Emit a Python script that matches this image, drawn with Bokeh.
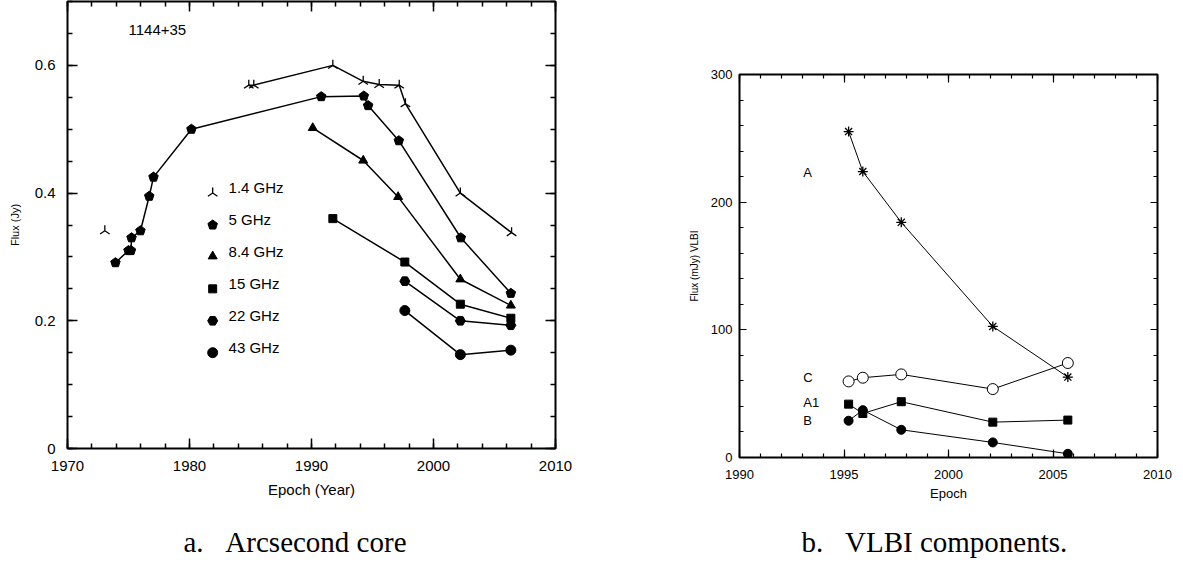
import math
from bokeh.plotting import figure
from bokeh.models import FixedTicker, LinearAxis, CustomJSTickFormatter, Title, Range1d, Spacer
from bokeh.layouts import row, column
from bokeh.core.properties import value
from bokeh.embed import file_html
from bokeh.resources import INLINE

SANS = "Liberation Sans"
SERIF = "Liberation Serif"

# ---------------- Panel a: arcsecond core ----------------
f14_x = [1973.06, 1984.86, 1985.27, 1991.75, 1994.24, 1995.55, 1997.19, 1997.70, 2002.20, 2006.40]
f14_y = [0.341, 0.569, 0.569, 0.600, 0.575, 0.570, 0.569, 0.540, 0.400, 0.338]
f5_x = [1973.93, 1975.00, 1975.20, 1975.25, 1975.98, 1976.70, 1977.05, 1980.16, 1990.80, 1994.29, 1994.64, 1997.16, 2002.24, 2006.34]
f5_y = [0.291, 0.310, 0.310, 0.330, 0.341, 0.395, 0.425, 0.500, 0.551, 0.552, 0.537, 0.482, 0.330, 0.243]
f84_x = [1990.10, 1994.24, 1997.10, 2002.20, 2006.34]
f84_y = [0.502, 0.451, 0.394, 0.265, 0.224]
f15_x = [1991.75, 1997.65, 2002.20, 2006.34]
f15_y = [0.360, 0.292, 0.226, 0.204]
f22_x = [1997.65, 2002.20, 2006.34]
f22_y = [0.262, 0.200, 0.193]
f43_x = [1997.65, 2002.20, 2006.34]
f43_y = [0.216, 0.147, 0.154]

legend_labels = ["1.4 GHz", "5 GHz", "8.4 GHz", "15 GHz", "22 GHz", "43 GHz"]
legend_y = [0.400, 0.350, 0.301, 0.250, 0.200, 0.150]
legend_marker_x = 1981.9
legend_text_x = 1983.2
source_name = "1144+35"

a_xticks = [1970, 1980, 1990, 2000, 2010]
a_xminor = list(range(1970, 2011, 2))
a_yticks = [0, 0.2, 0.4, 0.6]
a_ytick_labels = ["0", "0.2", "0.4", "0.6"]
a_yminor = [0, 0.05, 0.1, 0.15, 0.2, 0.25, 0.3, 0.35, 0.4, 0.45, 0.5, 0.55, 0.6, 0.65, 0.7]

# ---------------- Panel b: VLBI components ----------------
epoch_b = [1995.22, 1995.90, 1997.74, 2002.12, 2005.71]
comp_A = [255.3, 224.0, 184.2, 102.7, 63.0]
comp_C = [59.6, 62.5, 65.1, 53.6, 74.0]
comp_A1 = [41.8, 34.5, 43.7, 27.7, 29.3]
comp_B = [28.8, 37.1, 21.7, 11.8, 2.9]
comp_labels = ["A", "C", "A1", "B"]
comp_label_y = [223.0, 63.0, 43.0, 29.0]
comp_label_x = 1993.05

b_xticks = [1990, 1995, 2000, 2005, 2010]
b_xminor = list(range(1990, 2011, 1))
b_yticks = [0, 100, 200, 300]
b_yminor = list(range(0, 301, 20))


def blank_formatter():
    return CustomJSTickFormatter(code="return ''")


def style_axis(ax, major_in, minor_in, lw, fsize, standoff):
    ax.axis_line_color = None
    ax.major_tick_in = major_in
    ax.major_tick_out = 0
    ax.minor_tick_in = minor_in
    ax.minor_tick_out = 0
    ax.major_tick_line_width = lw
    ax.minor_tick_line_width = lw
    ax.major_tick_line_color = "black"
    ax.minor_tick_line_color = "black"
    ax.major_label_text_font = SANS
    ax.major_label_text_font_size = fsize
    ax.major_label_text_color = "black"
    ax.major_label_standoff = standoff
    ax.axis_label_text_font = SANS
    ax.axis_label_text_font_style = "normal"
    ax.axis_label_text_color = "black"


def pentagons(p, xs, ys, r):
    try:
        p.ngon(x=xs, y=ys, radius=r, radius_units="screen", n=5, angle=0,
               fill_color="black", line_color="black", line_width=1)
    except Exception:
        p.scatter(xs, ys, marker="hex", size=2 * r, fill_color="black", line_color="black")


# ---------- figure a ----------
p1 = figure(frame_width=488, frame_height=447,
            x_range=Range1d(1970, 2010), y_range=Range1d(0, 0.7),
            min_border_left=67, min_border_right=53, min_border_top=1, min_border_bottom=114,
            output_backend="svg", toolbar_location=None,
            x_axis_label="Epoch (Year)", y_axis_label="Flux (Jy)")
p1.xgrid.visible = False
p1.ygrid.visible = False
p1.outline_line_color = "black"
p1.outline_line_width = 2
p1.background_fill_color = "white"
p1.border_fill_color = "white"

p1.xaxis.ticker = FixedTicker(ticks=a_xticks, minor_ticks=a_xminor)
p1.yaxis.ticker = FixedTicker(ticks=a_yticks, minor_ticks=a_yminor)
p1.yaxis.major_label_overrides = {t: s for t, s in zip(a_yticks, a_ytick_labels)}
style_axis(p1.xaxis[0], 10, 5, 1.5, "15px", 12)
style_axis(p1.yaxis[0], 10, 5, 1.5, "15px", 12)
p1.xaxis.axis_label_text_font_size = "15px"
p1.xaxis.axis_label_standoff = 7
p1.yaxis.axis_label_text_font_size = "11px"
p1.yaxis.axis_label_standoff = 11

ax_top = LinearAxis(ticker=FixedTicker(ticks=a_xticks, minor_ticks=a_xminor), formatter=blank_formatter())
style_axis(ax_top, 10, 5, 1.5, "1px", 0)
p1.add_layout(ax_top, "above")
ax_right = LinearAxis(ticker=FixedTicker(ticks=a_yticks, minor_ticks=a_yminor), formatter=blank_formatter())
style_axis(ax_right, 10, 5, 1.5, "1px", 0)
p1.add_layout(ax_right, "right")

LW1 = 1.5
p1.line(f14_x[1:], f14_y[1:], line_color="black", line_width=LW1)
p1.line(f5_x, f5_y, line_color="black", line_width=LW1)
p1.line(f84_x, f84_y, line_color="black", line_width=LW1)
p1.line(f15_x, f15_y, line_color="black", line_width=LW1)
p1.line(f22_x, f22_y, line_color="black", line_width=LW1)
p1.line(f43_x, f43_y, line_color="black", line_width=LW1)

p1.scatter(f14_x, f14_y, marker="y", size=11, angle=math.pi, line_color="black", line_width=1.3)
pentagons(p1, f5_x, f5_y, 5)
p1.scatter(f84_x, f84_y, marker="triangle", size=9, fill_color="black", line_color="black")
p1.scatter(f15_x, f15_y, marker="square", size=8, fill_color="black", line_color="black")
p1.scatter(f22_x, f22_y, marker="hex", size=10, fill_color="black", line_color="black")
p1.scatter(f43_x, f43_y, marker="circle", size=10, fill_color="black", line_color="black")

# legend (drawn inside the frame as in the original)
p1.scatter([legend_marker_x], [legend_y[0]], marker="y", size=11, angle=math.pi, line_color="black", line_width=1.3)
pentagons(p1, [legend_marker_x], [legend_y[1]], 5)
p1.scatter([legend_marker_x], [legend_y[2]], marker="triangle", size=9, fill_color="black", line_color="black")
p1.scatter([legend_marker_x], [legend_y[3]], marker="square", size=8, fill_color="black", line_color="black")
p1.scatter([legend_marker_x], [legend_y[4]], marker="hex", size=10, fill_color="black", line_color="black")
p1.scatter([legend_marker_x], [legend_y[5]], marker="circle", size=10, fill_color="black", line_color="black")
p1.text(x=[legend_text_x] * len(legend_labels), y=[v + 0.008 for v in legend_y], text=legend_labels,
        text_font=value(SANS), text_font_size="15px", text_baseline="middle", text_align="left",
        text_color="black")
p1.text(x=[1975.0], y=[0.656], text=[source_name], text_font=value(SANS), text_font_size="15px",
        text_baseline="middle", text_align="left", text_color="black")

cap1 = Title(text="a.\u00a0\u00a0\u00a0Arcsecond core", align="left", offset=116,
             text_font=SERIF, text_font_size="29px", text_font_style="normal",
             text_color="black", standoff=47)
p1.add_layout(cap1, "below")

# ---------- figure b ----------
p2 = figure(frame_width=418, frame_height=383,
            x_range=Range1d(1990, 2010), y_range=Range1d(0, 300),
            min_border_left=131, min_border_right=16, min_border_top=14, min_border_bottom=105,
            output_backend="svg", toolbar_location=None,
            x_axis_label="Epoch", y_axis_label="Flux (mJy) VLBI")
p2.xgrid.visible = False
p2.ygrid.visible = False
p2.outline_line_color = "black"
p2.outline_line_width = 2
p2.background_fill_color = "white"
p2.border_fill_color = "white"

p2.xaxis.ticker = FixedTicker(ticks=b_xticks, minor_ticks=b_xminor)
p2.yaxis.ticker = FixedTicker(ticks=b_yticks, minor_ticks=b_yminor)
style_axis(p2.xaxis[0], 8, 4, 1.2, "13px", 12)
style_axis(p2.yaxis[0], 7, 4, 1.2, "13px", 7)
p2.xaxis.axis_label_text_font_size = "13px"
p2.xaxis.axis_label_standoff = 4
p2.yaxis.axis_label_text_font_size = "10px"
p2.yaxis.axis_label_standoff = 8

bx_top = LinearAxis(ticker=FixedTicker(ticks=b_xticks, minor_ticks=b_xminor), formatter=blank_formatter())
style_axis(bx_top, 8, 4, 1.2, "1px", 0)
p2.add_layout(bx_top, "above")
by_right = LinearAxis(ticker=FixedTicker(ticks=b_yticks, minor_ticks=b_yminor), formatter=blank_formatter())
style_axis(by_right, 7, 4, 1.2, "1px", 0)
p2.add_layout(by_right, "right")

LW2 = 1.0
for ys in (comp_A, comp_C, comp_A1, comp_B):
    p2.line(epoch_b, ys, line_color="black", line_width=LW2)
p2.scatter(epoch_b, comp_A, marker="asterisk", size=10, line_color="black", line_width=1.3)
p2.scatter(epoch_b, comp_C, marker="circle", size=11, fill_color="white", line_color="black", line_width=1)
p2.scatter(epoch_b, comp_A1, marker="square", size=8, fill_color="black", line_color="black")
p2.scatter(epoch_b, comp_B, marker="circle", size=9, fill_color="black", line_color="black")
p2.text(x=[comp_label_x] * len(comp_labels), y=comp_label_y, text=comp_labels,
        text_font=value(SANS), text_font_size="13px", text_baseline="middle", text_align="left",
        text_color="black")

cap2 = Title(text="b.\u00a0\u00a0\u00a0VLBI components.", align="left", offset=62,
             text_font=SERIF, text_font_size="29px", text_font_style="normal",
             text_color="black", standoff=41)
p2.add_layout(cap2, "below")

root = row(p1, column(Spacer(width=10, height=60), p2))

open("out.html", "w").write(file_html(root, INLINE))
